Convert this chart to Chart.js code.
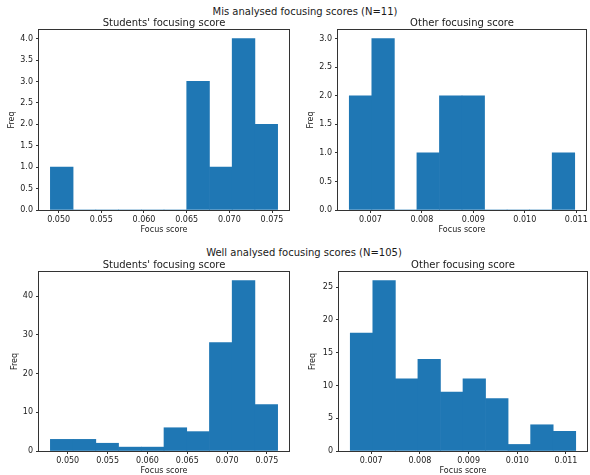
<!DOCTYPE html>
<html lang="en">
<head>
  <meta charset="UTF-8" />
  <title>Focusing scores</title>
  <script src="https://cdn.jsdelivr.net/npm/chart.js"></script>
  <style>
    body {
      margin: 0;
      background: #fff;
      width: 590px;
      height: 475px;
      overflow: hidden;
      position: relative;
      font-family: "DejaVu Sans", sans-serif;
    }
    canvas { position: absolute; }
    .suptitle {
      position: absolute;
      width: 400px;
      text-align: center;
      font-size: 10px;
      line-height: 12px;
      color: #1a1a1a;
    }
  </style>
</head>
<body>

  <div class="suptitle" style="left:105px; top:6px;">Mis analysed focusing scores (N=11)</div>
  <div class="suptitle" style="left:104px; top:247px;">Well analysed focusing scores (N=105)</div>

  <canvas id="misStudent" width="301" height="220" style="left:0px; top:17px;"></canvas>
  <canvas id="misOther" width="299" height="220" style="left:299px; top:17px;"></canvas>
  <canvas id="wellStudent" width="301" height="219" style="left:0px; top:259px;"></canvas>
  <canvas id="wellOther" width="299" height="219" style="left:300px; top:259px;"></canvas>

  <script>
    // histogram counts (10 bins each) and first/last bin edge
    const misStudentCounts = [1, 0, 0, 0, 0, 0, 3, 1, 4, 2];
    const misStudentBins = [0.04903, 0.07566];
    const misOtherCounts = [2, 3, 0, 1, 2, 2, 0, 0, 0, 1];
    const misOtherBins = [0.00659, 0.01097];
    const wellStudentCounts = [3, 3, 2, 1, 1, 6, 5, 28, 44, 12];
    const wellStudentBins = [0.04782, 0.07634];
    const wellOtherCounts = [18, 26, 11, 14, 9, 11, 8, 1, 4, 3];
    const wellOtherBins = [0.00657, 0.01120];

    // tick labels
    const studentTicks = [0.050, 0.055, 0.060, 0.065, 0.070, 0.075];
    const otherTicks = [0.007, 0.008, 0.009, 0.010, 0.011];
    const misStudentFreqTicks = [0, 0.5, 1, 1.5, 2, 2.5, 3, 3.5, 4];
    const misOtherFreqTicks = [0, 0.5, 1, 1.5, 2, 2.5, 3];
    const wellStudentFreqTicks = [0, 10, 20, 30, 40];
    const wellOtherFreqTicks = [0, 5, 10, 15, 20, 25];

    const BAR_COLOR = '#1f77b4';
    const TEXT_COLOR = '#1a1a1a';
    const AXIS_COLOR = '#333';

    Chart.defaults.font.family = '"DejaVu Sans", sans-serif';
    Chart.defaults.color = TEXT_COLOR;

    // matplotlib-like frame round the plot area
    const frame = {
      id: 'frame',
      afterDatasetsDraw(chart) {
        const { ctx, chartArea } = chart;
        ctx.save();
        ctx.strokeStyle = AXIS_COLOR;
        ctx.lineWidth = 1;
        ctx.strokeRect(Math.round(chartArea.left) - 0.5, Math.round(chartArea.top) - 0.5,
          Math.round(chartArea.right - chartArea.left) + 1, Math.round(chartArea.bottom - chartArea.top) + 1);
        ctx.restore();
      }
    };

    function histogram(id, counts, bins, xTicks, yTicks, yDecimals, yTitlePad, title) {
      const [lo, hi] = bins;
      const w = (hi - lo) / counts.length;
      const points = counts.map((c, i) => ({ x: lo + w * (i + 0.5), y: c }));
      const margin = (hi - lo) * 0.05;

      new Chart(document.getElementById(id), {
        type: 'bar',
        data: {
          datasets: [{
            data: points,
            backgroundColor: BAR_COLOR,
            borderWidth: 0,
            barPercentage: 1,
            categoryPercentage: 1
          }]
        },
        options: {
          responsive: false,
          animation: false,
          layout: { padding: { left: 0, right: 12, top: 0, bottom: 0 } },
          plugins: {
            legend: { display: false },
            tooltip: { enabled: false },
            title: {
              display: true,
              text: title,
              fullSize: false,
              color: TEXT_COLOR,
              font: { size: 10, weight: 'normal' },
              padding: { top: 0, bottom: 1 }
            }
          },
          scales: {
            x: {
              type: 'linear',
              offset: false,
              min: lo - margin,
              max: hi + margin,
              afterBuildTicks: (axis) => { axis.ticks = xTicks.map(v => ({ value: v })); },
              afterFit: (axis) => { axis.height = 27; },
              grid: { offset: false, drawOnChartArea: false, drawTicks: true, tickLength: 3, color: AXIS_COLOR },
              border: { display: false },
              ticks: {
                autoSkip: false,
                maxRotation: 0,
                minRotation: 0,
                padding: 2,
                font: { size: 8 },
                callback: (v) => Number(v).toFixed(3)
              },
              title: { display: true, text: 'Focus score', font: { size: 8 }, padding: { top: 0, bottom: 2 } }
            },
            y: {
              min: 0,
              max: Math.max(...counts) * 1.05,
              afterBuildTicks: (axis) => { axis.ticks = yTicks.map(v => ({ value: v })); },
              afterFit: (axis) => { axis.width = 39; },
              grid: { drawOnChartArea: false, drawTicks: true, tickLength: 3, color: AXIS_COLOR },
              border: { display: false },
              ticks: {
                padding: 3,
                font: { size: 8 },
                callback: (v) => Number(v).toFixed(yDecimals)
              },
              title: { display: true, text: 'Freq', font: { size: 8 }, padding: { top: yTitlePad, bottom: 0 } }
            }
          }
        },
        plugins: [frame]
      });
    }

    histogram('misStudent', misStudentCounts, misStudentBins, studentTicks, misStudentFreqTicks, 1, 7, "Students' focusing score");
    histogram('misOther', misOtherCounts, misOtherBins, otherTicks, misOtherFreqTicks, 1, 7, 'Other focusing score');
    histogram('wellStudent', wellStudentCounts, wellStudentBins, studentTicks, wellStudentFreqTicks, 0, 10, "Students' focusing score");
    histogram('wellOther', wellOtherCounts, wellOtherBins, otherTicks, wellOtherFreqTicks, 0, 8.5, 'Other focusing score');
  </script>

</body>
</html>
